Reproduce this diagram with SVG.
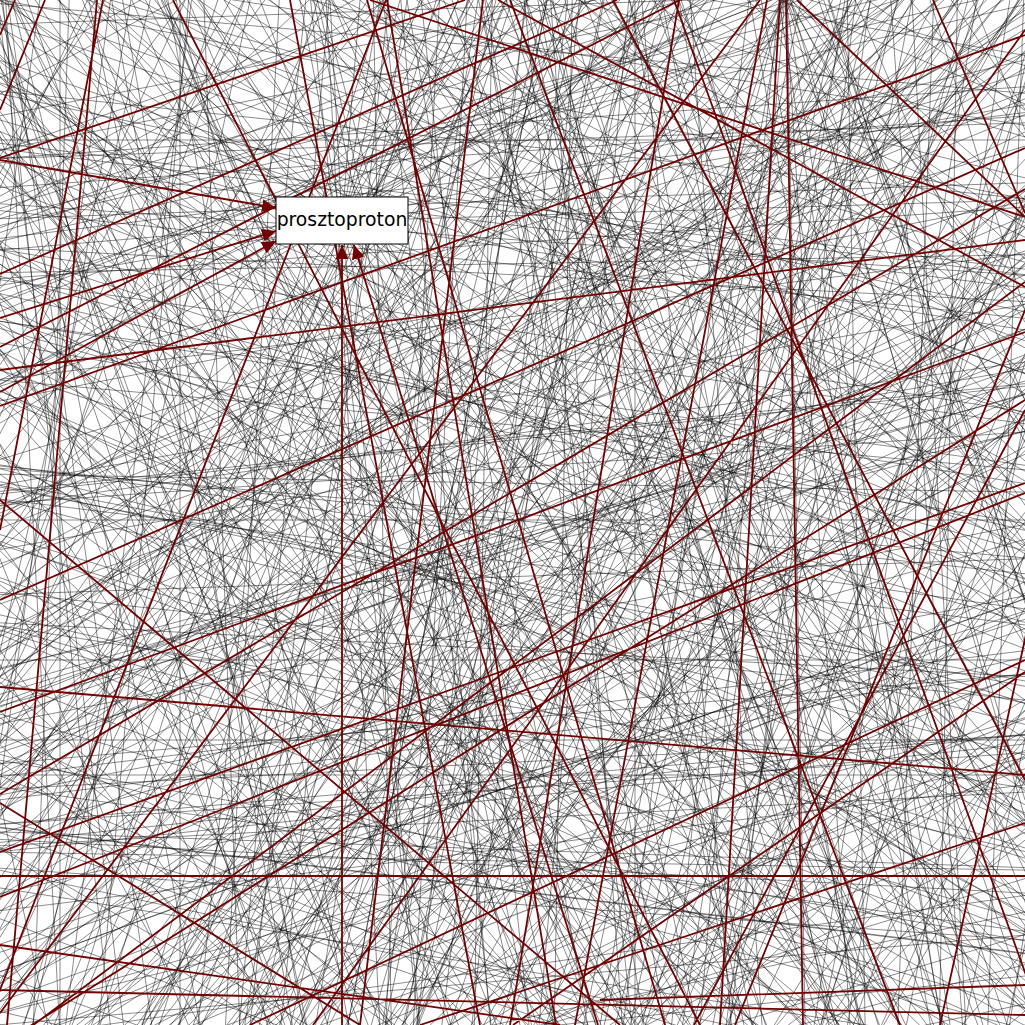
<svg xmlns="http://www.w3.org/2000/svg" xmlns:xlink="http://www.w3.org/1999/xlink" width="1025" height="1025" viewBox="0 0 1025 1025">
<style>
.e{stroke:#000;stroke-opacity:.45;stroke-width:1;fill:none}
.r{stroke:#720000;stroke-width:1.8;fill:none}
.lbl{font-family:"DejaVu Sans",sans-serif;font-size:18.8px;fill:#000}
</style>
<defs>
<marker id="ah" markerUnits="userSpaceOnUse" markerWidth="15" markerHeight="13" refX="14" refY="6.5" orient="auto"><path d="M0,0 L14,6.5 L0,13 Z" fill="#720000"/></marker>
<line id="t" x1="1" y1="-100" x2="1" y2="100" stroke="#000" stroke-opacity=".45" stroke-width="1" vector-effect="non-scaling-stroke"/>
<g id="ra"><use href="#t"/><use href="#t" transform="rotate(28)"/><use href="#t" transform="rotate(61)"/><use href="#t" transform="rotate(90)"/><use href="#t" transform="rotate(118)"/><use href="#t" transform="rotate(152)"/><use href="#t" transform="rotate(180)"/><use href="#t" transform="rotate(209)"/><use href="#t" transform="rotate(241)"/><use href="#t" transform="rotate(268)"/><use href="#t" transform="rotate(301)"/><use href="#t" transform="rotate(332)"/></g>
<g id="rb"><use href="#t" transform="rotate(10)"/><use href="#t" transform="rotate(47)"/><use href="#t" transform="rotate(83)"/><use href="#t" transform="rotate(131)"/><use href="#t" transform="rotate(166)"/><use href="#t" transform="rotate(199)"/><use href="#t" transform="rotate(236)"/><use href="#t" transform="rotate(284)"/><use href="#t" transform="rotate(322)"/></g>
</defs>
<rect width="1025" height="1025" fill="#fff"/>
<g id="connectors">
<g id="gray-edges">
<use href="#ra" transform="translate(120,80) rotate(0) scale(60)"/>
<use href="#rb" transform="translate(420,90) rotate(13) scale(45)"/>
<use href="#ra" transform="translate(640,150) rotate(7) scale(90)"/>
<use href="#rb" transform="translate(900,90) rotate(21) scale(55)"/>
<use href="#ra" transform="translate(230,330) rotate(5) scale(70)"/>
<use href="#rb" transform="translate(560,330) rotate(17) scale(110)"/>
<use href="#ra" transform="translate(860,320) rotate(9) scale(65)"/>
<use href="#rb" transform="translate(90,520) rotate(24) scale(50)"/>
<use href="#ra" transform="translate(330,560) rotate(3) scale(80)"/>
<use href="#rb" transform="translate(640,560) rotate(19) scale(60)"/>
<use href="#ra" transform="translate(900,560) rotate(11) scale(95)"/>
<use href="#rb" transform="translate(160,780) rotate(8) scale(75)"/>
<use href="#ra" transform="translate(450,800) rotate(22) scale(55)"/>
<use href="#rb" transform="translate(720,830) rotate(14) scale(85)"/>
<use href="#ra" transform="translate(950,820) rotate(2) scale(45)"/>
<use href="#rb" transform="translate(100,980) rotate(16) scale(65)"/>
<use href="#ra" transform="translate(380,990) rotate(6) scale(95)"/>
<use href="#rb" transform="translate(640,1000) rotate(26) scale(50)"/>
<use href="#ra" transform="translate(900,990) rotate(12) scale(70)"/>
<use href="#rb" transform="translate(512,512) rotate(4) scale(250)"/>
<use href="#ra" transform="translate(300,200) rotate(18) scale(140)"/>
<use href="#rb" transform="translate(780,700) rotate(10) scale(180)"/>
<use href="#ra" transform="translate(200,650) rotate(25) scale(160)"/>
<use href="#rb" transform="translate(700,250) rotate(20) scale(200)"/>
<use href="#ra" transform="translate(40,250) rotate(8) scale(35)"/>
<use href="#rb" transform="translate(990,420) rotate(15) scale(40)"/>
<use href="#ra" transform="translate(520,700) rotate(29) scale(40)"/>
<use href="#rb" transform="translate(250,460) rotate(12) scale(30)"/>
<use href="#ra" transform="translate(820,160) rotate(27) scale(30)"/>
<use href="#rb" transform="translate(440,420) rotate(1) scale(25)"/>
<use href="#ra" transform="translate(600,900) rotate(23) scale(120)"/>
<use href="#rb" transform="translate(150,150) rotate(6) scale(120)"/>
<use href="#ra" transform="translate(950,250) rotate(19) scale(130)"/>
<use href="#rb" transform="translate(60,880) rotate(27) scale(110)"/>
<use href="#ra" transform="translate(300,900) rotate(9) scale(35)"/>
<use href="#rb" transform="translate(800,450) rotate(28) scale(40)"/>
<use href="#ra" transform="translate(560,80) rotate(11) scale(28)"/>
<use href="#rb" transform="translate(700,420) rotate(5) scale(150)"/>
<use href="#ra" transform="translate(350,700) rotate(16) scale(110)"/>
<use href="#rb" transform="translate(880,950) rotate(3) scale(140)"/>
<use href="#rb" transform="translate(60,60) rotate(14) scale(90)"/>
<use href="#ra" transform="translate(480,250) rotate(22) scale(70)"/>
<use href="#rb" transform="translate(750,60) rotate(3) scale(75)"/>
<use href="#ra" transform="translate(980,150) rotate(25) scale(60)"/>
<use href="#rb" transform="translate(150,420) rotate(7) scale(100)"/>
<use href="#ra" transform="translate(420,640) rotate(13) scale(70)"/>
<use href="#rb" transform="translate(580,470) rotate(26) scale(45)"/>
<use href="#ra" transform="translate(980,700) rotate(9) scale(80)"/>
<use href="#rb" transform="translate(260,1010) rotate(20) scale(60)"/>
<use href="#ra" transform="translate(780,1010) rotate(17) scale(45)"/>
<use href="#rb" transform="translate(40,700) rotate(2) scale(60)"/>
<use href="#ra" transform="translate(600,700) rotate(8) scale(170)"/>
<use href="#rb" transform="translate(350,350) rotate(21) scale(200)"/>
<use href="#ra" transform="translate(850,850) rotate(24) scale(100)"/>
<use href="#rb" transform="translate(120,300) rotate(15) scale(180)"/>
<use href="#ra" transform="translate(940,480) rotate(6) scale(210)"/>
<use href="#rb" transform="translate(500,950) rotate(28) scale(150)"/>
<use href="#ra" transform="translate(700,120) rotate(12) scale(120)"/>
<use href="#rb" transform="translate(300,780) rotate(4) scale(50)"/>
<use href="#ra" transform="translate(820,600) rotate(18) scale(35)"/>
<path class="e" d="M342,221L0,0M342,221L100,0M342,221L200,0M342,221L260,0M342,221L330,0M342,221L400,0M342,221L470,0M342,221L560,0M342,221L700,0M342,221L850,0M342,221L1025,60M342,221L1025,200M342,221L1025,330M342,221L1025,500M342,221L1025,700M342,221L1025,900M342,221L900,1025M342,221L700,1025M342,221L520,1025M342,221L420,1025M342,221L250,1025M342,221L100,1025M342,221L0,900M342,221L0,700M342,221L0,520M342,221L0,380M342,221L0,250M342,221L0,120M342,221L380,0M342,221L420,0M342,221L300,0M342,221L360,0M342,221L440,0M342,221L620,0"/>
<path class="e" d="M785,-5L0,300M785,-5L0,600M785,-5L150,1025M785,-5L300,1025M785,-5L450,1025M785,-5L600,1025M785,-5L700,1025M785,-5L850,1025M785,-5L950,1025M785,-5L1025,800M785,-5L1025,600M785,-5L1025,400M785,-5L1025,200M785,-5L500,1025M785,-5L250,1025M785,-5L0,150"/>
</g>
<g id="red-edges">
<line class="r" x1="0" y1="160" x2="276" y2="208" marker-end="url(#ah)"/>
<line class="r" x1="0" y1="318" x2="276" y2="231" marker-end="url(#ah)"/>
<line class="r" x1="0" y1="392" x2="276" y2="241" marker-end="url(#ah)"/>
<line class="r" x1="342" y1="1025" x2="342" y2="245" marker-end="url(#ah)"/>
<line class="r" x1="598" y1="1025" x2="354" y2="245" marker-end="url(#ah)"/>
<path class="r" d="M0,406L1025,35M0,158L465,0M97,0L7,1025M103,0L0,530M173,0L700,1025M786,0L803,1025M767,0L575,1025M760,0L0,1013M780,0L720,1025M797,0L1025,217M370,0L1025,217M933,0L1025,213M1025,30L313,1025M0,370L1025,240M0,876L1025,876M0,687L1025,775M367,0L665,1025M387,0L556,1025M483,0L360,1025M510,0L900,1025M613,0L1025,780M0,274L617,0M0,347L680,0M0,1050L1025,282M0,1045L1025,400M0,852L1025,483M0,712L1025,332M674,0L1044,1025M694,1025L1025,410M0,803L360,1025M0,897L1025,493M0,500L620,1025M0,600L1025,148M0,794L1025,189M386,0L0,990M250,1025L1025,660M600,1000L1025,985M0,945L560,1025M1025,310L735,1025M1025,672L513,1025M1060,480L940,1025M1025,823L420,1025M498,0L1025,287M290,0L480,1025M45,0L0,110M15,0L0,35M679,0L510,1025M0,990L1025,1015"/>
</g>
</g>
<g id="node-prosztoproton">
<rect x="276" y="197" width="132" height="47" fill="#fff" stroke="#000" stroke-width="1"/>
<text class="lbl" x="342" y="226" text-anchor="middle">prosztoproton</text>
</g>
</svg>
